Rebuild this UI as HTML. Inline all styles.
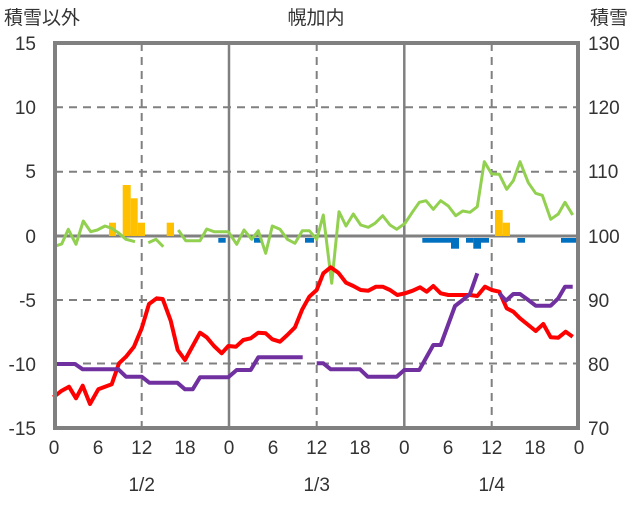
<!DOCTYPE html>
<html><head><meta charset="utf-8"><style>
body{margin:0;background:#fff}
svg text{font-family:"Liberation Sans","Noto Sans CJK JP",sans-serif;fill:#333;font-size:19px}
</style></head><body>
<svg width="636" height="501" viewBox="0 0 636 501">
<g stroke="#808080" stroke-width="2" stroke-dasharray="8,6">
<line x1="55" y1="107.3" x2="578" y2="107.3"/><line x1="55" y1="171.7" x2="578" y2="171.7"/>
<line x1="55" y1="300" x2="578" y2="300"/><line x1="55" y1="363.5" x2="578" y2="363.5"/>
<line x1="141.7" y1="43" x2="141.7" y2="428"/><line x1="316.7" y1="43" x2="316.7" y2="428"/><line x1="491.7" y1="43" x2="491.7" y2="428"/>
</g>
<g stroke="#808080" stroke-width="2.5">
<line x1="229" y1="43" x2="229" y2="428"/><line x1="404.3" y1="43" x2="404.3" y2="428"/>
<line x1="55" y1="236" x2="578" y2="236" stroke-width="3"/>
</g>
<g fill="#FFC000">
<rect x="109" y="222.7" width="7" height="13.3"/><rect x="122.7" y="185" width="8" height="51"/><rect x="130.7" y="198.3" width="7" height="37.7"/><rect x="137.7" y="222.7" width="7.3" height="13.3"/><rect x="166.7" y="222.7" width="7.3" height="13.3"/>
<rect x="495" y="210" width="7.7" height="26"/><rect x="502.7" y="222.7" width="7.3" height="13.3"/>
</g>
<g fill="#0070C0">
<rect x="218.3" y="238" width="7.4" height="4.7"/><rect x="254" y="238" width="6.7" height="4.7"/><rect x="305" y="238" width="9" height="4.7"/>
<rect x="422.3" y="238" width="28.7" height="4.7"/><rect x="451" y="238" width="8" height="10.7"/><rect x="466" y="238" width="7.3" height="4.7"/><rect x="473.3" y="238" width="7.7" height="10.7"/><rect x="481" y="238" width="8" height="4.7"/><rect x="517.3" y="238" width="7.7" height="4.7"/><rect x="561" y="238" width="15" height="4.7"/>
</g>
<g fill="none" stroke-width="3" stroke-linejoin="round">
<polyline stroke="#92D050" points="53.3,246.7 61.7,244 68.3,229.3 76,244.3 83.3,221 90.7,231.7 97.3,230 105,226 111.7,228.3 119,233.3 126,239.3 135,241.7"/>
<polyline stroke="#92D050" points="148.3,242.7 156,239.3 163.3,246.7"/>
<polyline stroke="#92D050" points="178.3,230 185.7,240.7 200,240.7 206.7,229 214,231.7 228.3,231.7 236.7,244.3 244,230 251.7,239.3 258.3,230.7 265.7,253.3 272.3,226 280,229.3 287.3,239.3 295,243.3 302.3,230.7 309.3,230.7 316.7,239.3 323.3,215 331.7,283.3 339,211.7 346,226 353.3,214 360.7,225 368.3,227.3 375,223.3 382.7,215.7 390,225 396.7,229.3 405,223.3 412.7,211.7 419.3,202.3 426,200.7 433.3,209.3 440.7,200.7 448.3,206 455.7,215.7 462.7,211 470,212.3 477.3,206.7 484.3,161.7 491.7,174 499.3,174.3 506.7,189.3 513.3,180.7 520,161.7 528.3,182.7 535.7,193.3 542.3,195.3 550.7,219.3 558.3,214 565,202.3 572.7,215"/>
<polyline stroke="#FF0000" stroke-width="4" points="53.3,397.3 61.7,390.7 69,386.7 76,398.3 82.7,385.7 90,404 98.3,389.3 111.7,384.3 119,363.3 126,356.7 134,346.7 141.7,328.3 149,304 156.7,298.3 162.7,299 170.7,320.7 177.7,350 185,360 192.7,346 200,332.7 206.7,337.3 214,346 221.7,353.3 228.3,346 236,346.7 243.3,340 250.7,338.3 258.3,332.7 265.7,333.3 272.3,339.3 280,341.7 287.3,335 295,327.3 302.3,309.3 309.3,296.7 316.7,290 323.3,273.3 330.7,267.3 338.3,272.7 346,282.7 353.3,286 360.7,290 368.3,290.7 376,286.7 382.7,286.7 390,290 397.3,295 405,293.3 412.7,290.7 420,287.3 426.7,291.7 433.3,286 440.7,293.3 448.3,295 470,295 477.3,296 485,286.7 491.7,290 499.3,291.7 506.7,308.3 513.3,311.7 520,318.3 528.3,325 535.7,331 543.3,324 550.7,337.3 558.3,337.7 565.7,331.7 572.7,336.7"/>
<polyline stroke="#7030A0" stroke-width="4" points="53.3,364 75,364 82.7,369.3 118.3,369.3 126,376.7 141.7,376.7 149.3,382.7 177.3,382.7 185,389.3 192.7,389.3 200,377.3 228.3,377.3 236.7,370 250.7,370 258.3,357.3 302.7,357.3"/>
<polyline stroke="#7030A0" stroke-width="4" points="316.7,363.3 323.3,363.3 330.7,369.3 360,369.3 367.7,376.7 396.7,376.7 404.3,370 419.3,370 433.3,345 440.7,345 455,306 462.7,300 470,294 477.3,273.3"/>
<polyline stroke="#7030A0" stroke-width="4" points="499.3,293.3 506,300.7 513.3,294 520,294 528.3,300 535.7,305.7 550.7,305.7 558.3,298.3 565,286.7 572.7,286.7"/>
</g>
<rect x="55" y="43" width="523" height="385" fill="none" stroke="#808080" stroke-width="4"/>
<g text-anchor="end">
<text x="36" y="50">15</text><text x="36" y="114">10</text><text x="36" y="178">5</text><text x="36" y="243">0</text><text x="36" y="307">-5</text><text x="36" y="371">-10</text><text x="36" y="435">-15</text>
</g>
<g text-anchor="start">
<text x="588" y="50">130</text><text x="588" y="114">120</text><text x="588" y="178">110</text><text x="588" y="243">100</text><text x="588" y="307">90</text><text x="588" y="371">80</text><text x="588" y="435">70</text>
</g>
<g text-anchor="middle">
<text x="54" y="454">0</text><text x="98" y="454">6</text><text x="141.7" y="454">12</text><text x="185" y="454">18</text><text x="229" y="454">0</text><text x="273" y="454">6</text><text x="316.7" y="454">12</text><text x="360" y="454">18</text><text x="404.3" y="454">0</text><text x="448" y="454">6</text><text x="491.7" y="454">12</text><text x="535" y="454">18</text><text x="579" y="454">0</text>
<text x="141.7" y="491">1/2</text><text x="316.7" y="491">1/3</text><text x="491.7" y="491">1/4</text>
<text x="316" y="24">幌加内</text>
</g>
<text x="4" y="24">積雪以外</text>
<text x="590" y="24">積雪</text>
</svg>
</body></html>
